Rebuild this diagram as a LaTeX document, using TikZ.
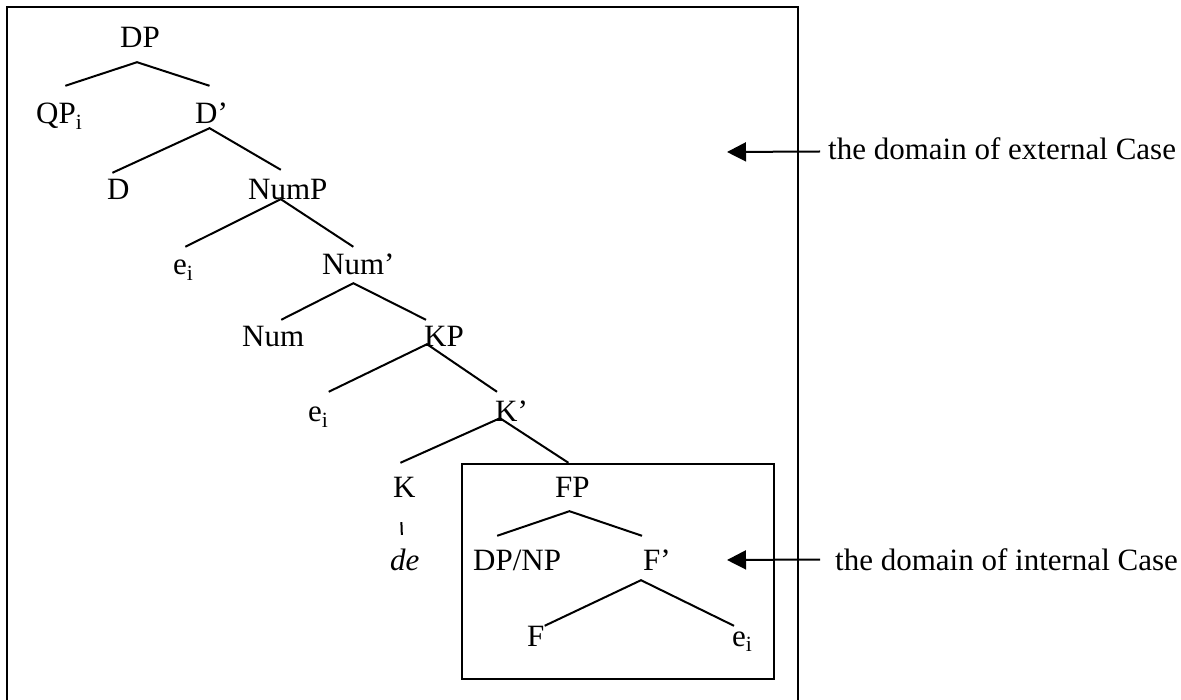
\documentclass[tikz,border=0pt]{standalone}
\usepackage{fontspec}
\setmainfont{Liberation Serif}
\usetikzlibrary{arrows.meta}

\tikzset{
  cat/.style={inner sep=0pt, text height=21pt, text depth=0pt, anchor=base west, font=\fontsize{31}{37}\selectfont},
  branch/.style={line width=2pt},
  caseArrow/.style={-{Triangle[length=19pt,width=19pt]}, line width=2pt}
}

\begin{document}
\begin{tikzpicture}[x=1pt,y=-1pt]
\useasboundingbox (0,0) rectangle (1181,700);

% Drawing the boxes
\draw[branch] (7,700) |- (798,7) -- (798,700); % outer box, open at the bottom
\draw[branch] (462,464) rectangle (774,679); % inner box

% Nodes of the tree
\node[cat] (DP) at (120,48) {DP};
\node[cat] (QP) at (36,124) {QP\textsubscript{i}};
\node[cat] (Dbar) at (195,124) {D’};
\node[cat] (D) at (107,200) {D};
\node[cat] (NumP) at (248,200) {NumP};
\node[cat] (e1) at (173,275) {e\textsubscript{i}};
\node[cat] (Numbar) at (322,275) {Num’};
\node[cat] (Num) at (242,347) {Num};
\node[cat] (KP) at (424,347) {KP};
\node[cat] (e2) at (308,422) {e\textsubscript{i}};
\node[cat] (Kbar) at (495,422) {K’};
\node[cat] (K) at (393,497) {K};
\node[cat] (FP) at (555,497) {FP};
\node[cat] (de) at (390,570) {\textit{de}};
\node[cat] (DPNP) at (473,570) {DP/NP};
\node[cat] (Fbar) at (643,570) {F’};
\node[cat] (F) at (527,646) {F};
\node[cat] (e3) at (732,646) {e\textsubscript{i}};

% Branches
\draw[branch] ([shift={(6,-17)}]QP.north) -- ([shift={(-3,14)}]DP.south) -- ([shift={(-2,-17)}]Dbar.north);
\draw[branch] ([shift={(-6,-6)}]D.north) -- ([shift={(-2,4)}]Dbar.south) -- ([shift={(-7,-9)}]NumP.north);
\draw[branch] ([shift={(2,-7)}]e1.north) -- ([shift={(-7,-1)}]NumP.south) -- ([shift={(-5,-7)}]Numbar.north);
\draw[branch] ([shift={(8,-6)}]Num.north) -- ([shift={(-5,8)}]Numbar.south) -- ([shift={(2,-6)}]KP.north west);
\draw[branch] ([shift={(0,-9)}]e2.north east) -- ([shift={(3,-3)}]KP.south west) -- ([shift={(2,-9)}]Kbar.north west);
\draw[branch] ([shift={(-4,-13)}]K.north) -- ([shift={(5,-4)}]Kbar.south west) -- ([shift={(-4,-13)}]FP.north);
\draw[branch] ([shift={(-20,-13)}]DPNP.north) -- ([shift={(-3,14)}]FP.south) -- ([shift={(-1,-13)}]Fbar.north west);
\draw[branch] ([shift={(0,1)}]F.north east) -- ([shift={(-2,10)}]Fbar.south west) -- ([shift={(2,1)}]e3.north west);
\draw[branch] ([shift={(-3,25)}]K.south) -- ([shift={(-3,-14)}]de.north); % K to de

% Domain labels and arrows
\node[cat] (extCase) at (828,160) {the domain of external Case};
\node[cat] (intCase) at (835,570) {the domain of internal Case};
\coordinate (extTip) at (727,152);
\coordinate (intTip) at (727,560);
\draw[caseArrow] ([shift={(-8,2)}]extCase.west) -- (extTip);
\draw[caseArrow] ([shift={(-15,0)}]intCase.west) -- (intTip);

\end{tikzpicture}
\end{document}
